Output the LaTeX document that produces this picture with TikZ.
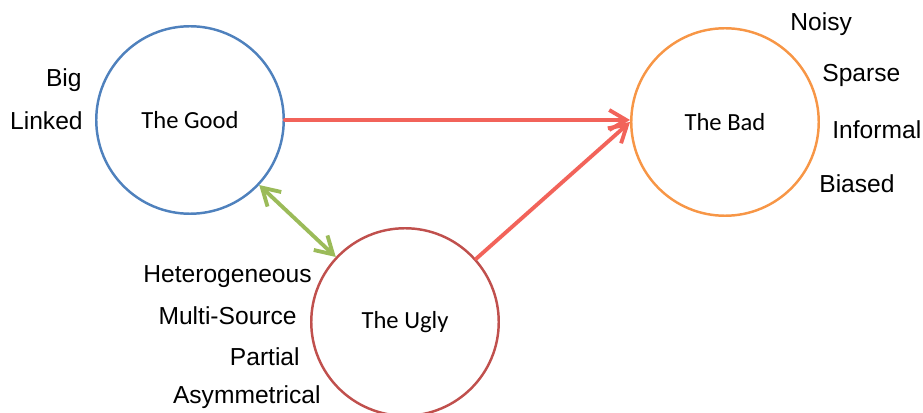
\documentclass[tikz,border=0pt]{standalone}
\usepackage{fontspec}
\setmainfont{Liberation Sans}
\newfontfamily\calibrifont{Carlito}
\usepackage{tikz}
\usetikzlibrary{arrows.meta, positioning}
\definecolor{goodblue}{RGB}{79,129,189}
\definecolor{badorange}{RGB}{247,150,70}
\definecolor{uglyred}{RGB}{192,80,77}
\definecolor{arrowred}{RGB}{242,99,90}
\definecolor{linkgreen}{RGB}{155,187,89}

\begin{document}
\begin{tikzpicture}[
    blob/.style={draw, circle, line width=1.4pt, minimum size=3.75cm, font=\calibrifont\fontsize{14}{16}\selectfont},
    attr/.style={inner sep=0pt, font=\fontsize{14}{16}\selectfont},
    flow/.style={-{Straight Barb[length=3.4mm, width=4mm]}, line width=2.2pt, line cap=round, arrowred},
    both/.style={{Straight Barb[length=3.4mm, width=4mm]}-{Straight Barb[length=3.4mm, width=4mm]}, line width=2.2pt, line cap=round, linkgreen}
]
    \useasboundingbox (0,0) rectangle (18.46,-8.26);

    % Circles
    \node[blob, goodblue] (good) at (3.8,-2.4) {\textcolor{black}{The Good}};
    \node[blob, badorange] (bad) at (14.5,-2.44) {\textcolor{black}{The Bad}};
    \node[blob, uglyred] (ugly) at (8.1,-6.44) {\textcolor{black}{The Ugly}};

    % Attributes
    \node[attr, anchor=east] (big) at (1.64,-1.6) {Big};
    \node[attr, anchor=east] (linked) at (1.66,-2.42) {Linked};
    \node[attr, anchor=west] (noisy) at (15.8,-0.48) {Noisy};
    \node[attr, anchor=west] (sparse) at (16.44,-1.5) {Sparse};
    \node[attr, anchor=west] (informal) at (16.64,-2.6) {Informal};
    \node[attr, anchor=west] (biased) at (16.38,-3.68) {Biased};
    \node[attr, anchor=east] (hetero) at (6.24,-5.54) {Heterogeneous};
    \node[attr, anchor=east] (multi) at (5.94,-6.32) {Multi-Source};
    \node[attr, anchor=east] (partial) at (6.0,-7.14) {Partial};
    \node[attr, anchor=east] (asym) at (6.42,-7.94) {Asymmetrical};

    % Links
    \draw[flow] (good) -- (good -| bad.west);
    \draw[flow] (ugly) -- (bad.west);
    \draw[both] (good) -- (ugly);
\end{tikzpicture}
\end{document}
